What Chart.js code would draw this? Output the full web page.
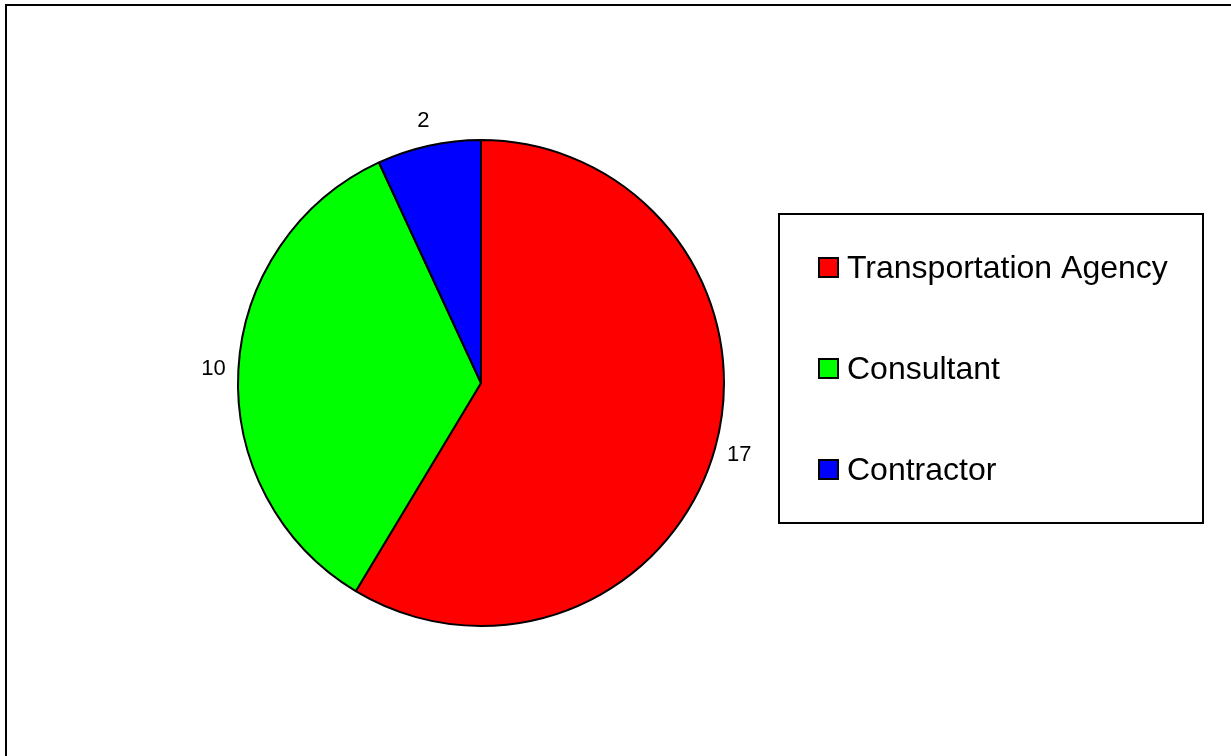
<!DOCTYPE html>
<html>
<head>
<meta charset="utf-8">
<title>Pie chart</title>
<script src="https://cdn.jsdelivr.net/npm/chart.js@4.4.1/dist/chart.umd.min.js"></script>
<style>
  html, body { margin: 0; padding: 0; background: #fff; }
  #chart { display: block; }
</style>
</head>
<body>
<canvas id="chart" width="1231" height="756"></canvas>
<script>
// Dados do gráfico
const categories = ['Transportation Agency', 'Consultant', 'Contractor'];
const counts = [17, 10, 2];
const sliceColors = ['#ff0000', '#00ff00', '#0000ff'];

const FONT = 'Arial, "Liberation Sans", sans-serif';

/**
 * Moldura externa (cortada pela borda direita/inferior)
 */
const framePlugin = {
  id: 'frame',
  beforeDraw(chart) {
    const ctx = chart.ctx;
    ctx.save();
    ctx.fillStyle = '#fff';
    ctx.fillRect(0, 0, chart.width, chart.height);
    ctx.strokeStyle = '#000';
    ctx.lineWidth = 2;
    ctx.strokeRect(6, 5, chart.width + 20, chart.height + 20);
    ctx.restore();
  }
};

/**
 * Rótulos com os valores, fora de cada fatia
 */
const valueLabels = {
  id: 'valueLabels',
  afterDatasetsDraw(chart) {
    const ctx = chart.ctx;
    const meta = chart.getDatasetMeta(0);
    ctx.save();
    ctx.font = '22px ' + FONT;
    ctx.fillStyle = '#000';
    ctx.textAlign = 'center';
    ctx.textBaseline = 'middle';
    meta.data.forEach((arc, i) => {
      const p = arc.getProps(['x', 'y', 'startAngle', 'endAngle', 'outerRadius'], true);
      const mid = (p.startAngle + p.endAngle) / 2;
      const r = p.outerRadius + 25;
      ctx.fillText(String(counts[i]), p.x + Math.cos(mid) * r, p.y + Math.sin(mid) * r);
    });
    ctx.restore();
  }
};

/**
 * Legenda em caixa à direita
 */
const boxLegend = {
  id: 'boxLegend',
  afterDraw(chart) {
    const ctx = chart.ctx;
    const box = { x: 779, y: 214, w: 424, h: 309 };
    ctx.save();
    ctx.strokeStyle = '#000';
    ctx.lineWidth = 2;
    ctx.strokeRect(box.x, box.y, box.w, box.h);
    ctx.font = '32px ' + FONT;
    ctx.textBaseline = 'middle';
    ctx.textAlign = 'left';
    categories.forEach((label, i) => {
      const cy = box.y + 54 + i * 101;
      ctx.fillStyle = sliceColors[i];
      ctx.fillRect(819, cy - 10, 19, 19);
      ctx.lineWidth = 2;
      ctx.strokeStyle = '#000';
      ctx.strokeRect(819, cy - 10, 19, 19);
      ctx.fillStyle = '#000';
      ctx.fillText(label, 847, cy + 1);
    });
    ctx.restore();
  }
};

new Chart(document.getElementById('chart'), {
  type: 'pie',
  data: {
    labels: categories,
    datasets: [{
      data: counts,
      backgroundColor: sliceColors,
      borderColor: '#000',
      borderWidth: 2
    }]
  },
  options: {
    responsive: false,
    animation: false,
    layout: {
      padding: { left: 237, right: 506, top: 139, bottom: 129 }
    },
    plugins: {
      legend: { display: false },
      tooltip: { enabled: false }
    }
  },
  plugins: [framePlugin, valueLabels, boxLegend]
});
</script>
</body>
</html>
